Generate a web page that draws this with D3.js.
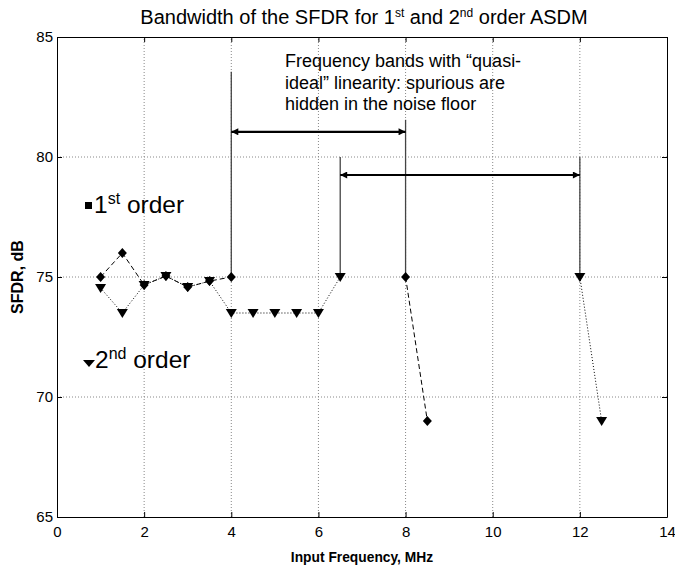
<!DOCTYPE html>
<html>
<head>
<meta charset="utf-8">
<script src="https://cdn.jsdelivr.net/npm/d3@7"></script>
<style>
  body { margin: 0; background: #fff; }
  svg { font-family: "Liberation Sans", Arial, sans-serif; }
</style>
</head>
<body>
<svg id="chart" width="675" height="574"></svg>
<script>
// values
const freq1 = [1, 1.5, 2, 2.5, 3, 3.5, 4, 8, 8.5];
const sfdr1 = [75, 76, 74.67, 75.04, 74.58, 74.83, 75, 75, 69];
const freq2 = [1, 1.5, 2, 2.5, 3, 3.5, 4, 4.5, 5, 5.5, 6, 6.5, 12, 12.5];
const sfdr2 = [74.54, 73.5, 74.67, 75.04, 74.58, 74.83, 73.5, 73.5, 73.5, 73.5, 73.5, 75, 75, 69];
// frequency spans where the curve is not drawn (sits on the 75 dB grid line)
const gap1 = [4, 8];
const gap2 = [6.5, 12];

const xTicks = [0, 2, 4, 6, 8, 10, 12, 14];
const yTicks = [65, 70, 75, 80, 85];

// annotation: band edges and arrows
const bandLineX = [4, 8, 6.5, 12];
const bandLineTop = [83.55, 81.55, 80, 80];
const arrowFrom = [4, 6.5];
const arrowTo = [8, 12];
const arrowY = [81.05, 79.25];

const noteLines = ["Frequency bands with \u201Cquasi-", "ideal\u201D linearity: spurious are", "hidden in the noise floor"];

const margin = {top: 37, right: 8, bottom: 57, left: 57};
const width = 675, height = 574;

const svg = d3.select("#chart");
const x = d3.scaleLinear().domain([0, 14]).range([margin.left, width - margin.right]);
const y = d3.scaleLinear().domain([65, 85]).range([height - margin.bottom, margin.top]);

// arrow heads
const defs = svg.append("defs");
defs.append("marker").attr("id", "head").attr("viewBox", "0 0 10 10")
    .attr("refX", 10).attr("refY", 5).attr("markerWidth", 10).attr("markerHeight", 7)
    .attr("markerUnits", "userSpaceOnUse").attr("orient", "auto-start-reverse")
    .append("path").attr("d", "M0,0 L10,5 L0,10 Z").attr("fill", "#000");

// grid
const grid = svg.append("g").attr("stroke", "#888").attr("stroke-width", 1).attr("stroke-dasharray", "1,2");
grid.selectAll(".gx").data(xTicks.slice(1, -1)).join("line")
    .attr("x1", d => x(d)).attr("x2", d => x(d))
    .attr("y1", y(65)).attr("y2", y(85));
grid.selectAll(".gy").data(yTicks.slice(1, -1)).join("line")
    .attr("x1", x(0)).attr("x2", x(14))
    .attr("y1", d => y(d)).attr("y2", d => y(d));

// axes (matlab style, ticks inside)
svg.append("g").attr("transform", `translate(0,${y(65)})`)
    .call(d3.axisBottom(x).tickValues(xTicks).tickSizeInner(-5).tickSizeOuter(0).tickPadding(9))
    .call(g => g.selectAll("text").attr("font-size", 15).attr("fill", "#000"));
svg.append("g").attr("transform", `translate(0,${y(85)})`)
    .call(d3.axisTop(x).tickValues(xTicks).tickSizeInner(-5).tickSizeOuter(0).tickFormat(""));
svg.append("g").attr("transform", `translate(${x(0)},0)`)
    .call(d3.axisLeft(y).tickValues(yTicks).tickSizeInner(-5).tickSizeOuter(0).tickPadding(4))
    .call(g => g.selectAll("text").attr("font-size", 15).attr("fill", "#000"));
svg.append("g").attr("transform", `translate(${x(14)},0)`)
    .call(d3.axisRight(y).tickValues(yTicks).tickSizeInner(-5).tickSizeOuter(0).tickFormat(""));
svg.selectAll(".domain").attr("stroke", "#000");

// band edge lines
svg.append("g").selectAll("line").data(bandLineX).join("line")
    .attr("x1", d => x(d)).attr("x2", d => x(d))
    .attr("y1", y(75)).attr("y2", (d, i) => y(bandLineTop[i]))
    .attr("stroke", "#444").attr("stroke-width", 1.3);

// double arrows
svg.append("g").selectAll("line").data(arrowY).join("line")
    .attr("x1", (d, i) => x(arrowFrom[i])).attr("x2", (d, i) => x(arrowTo[i]))
    .attr("y1", d => y(d)).attr("y2", d => y(d))
    .attr("stroke", "#000").attr("stroke-width", 2.2)
    .attr("marker-start", "url(#head)").attr("marker-end", "url(#head)");

// series, split into pieces around the gap
function pieces(fs, vs, gap) {
    const pts = fs.map((f, i) => [f, vs[i]]);
    const a = pts.filter(d => d[0] <= gap[0]);
    const b = pts.filter(d => d[0] >= gap[1]);
    return [a, b];
}
const s1 = freq1.map((f, i) => [f, sfdr1[i]]);
const s2 = freq2.map((f, i) => [f, sfdr2[i]]);
const line = d3.line().x(d => x(d[0])).y(d => y(d[1]));

svg.append("g").selectAll("path").data(pieces(freq2, sfdr2, gap2)).join("path")
    .attr("d", line).attr("fill", "none")
    .attr("stroke", "#000").attr("stroke-width", 1).attr("stroke-dasharray", "1,2");
svg.append("g").selectAll("path").data(pieces(freq1, sfdr1, gap1)).join("path")
    .attr("d", line).attr("fill", "none")
    .attr("stroke", "#000").attr("stroke-width", 1).attr("stroke-dasharray", "5,3");

const tri = "M-5.5,-4 L5.5,-4 L0,5 Z";
svg.append("g").selectAll("path").data(s2).join("path")
    .attr("transform", d => `translate(${x(d[0])},${y(d[1])})`)
    .attr("d", tri).attr("fill", "#000");
svg.append("g").selectAll("path").data(s1).join("path")
    .attr("transform", d => `translate(${x(d[0])},${y(d[1])})`)
    .attr("d", "M0,-5 L4.5,0 L0,5 L-4.5,0 Z").attr("fill", "#000");

// legends
const leg1 = svg.append("g").attr("transform", "translate(85,213)");
leg1.append("rect").attr("x", 0).attr("y", -11).attr("width", 7).attr("height", 7).attr("fill", "#000");
leg1.append("text").attr("x", 9).attr("y", 0).attr("font-size", 24.5).attr("fill", "#000")
    .html('1<tspan dy="-9" font-size="16">st</tspan><tspan dy="9"> order</tspan>');

const leg2 = svg.append("g").attr("transform", "translate(83,368)");
leg2.append("path").attr("d", "M0,-8 L12,-8 L6,-1 Z").attr("fill", "#000");
leg2.append("text").attr("x", 12).attr("y", 0).attr("font-size", 24.5).attr("fill", "#000")
    .html('2<tspan dy="-9" font-size="16">nd</tspan><tspan dy="9"> order</tspan>');

// note
svg.append("g").selectAll("text").data(noteLines).join("text")
    .attr("x", 285).attr("y", (d, i) => 67 + i * 21.5)
    .attr("font-size", 18).attr("fill", "#000").text(d => d);

// title
svg.append("text").attr("x", 364).attr("y", 24).attr("text-anchor", "middle")
    .attr("font-size", 20).attr("fill", "#000")
    .html('Bandwidth of the SFDR for 1<tspan dy="-7" font-size="12">st</tspan><tspan dy="7"> and 2</tspan><tspan dy="-7" font-size="12">nd</tspan><tspan dy="7"> order ASDM</tspan>');

// axis labels
svg.append("text").attr("x", 362).attr("y", 562).attr("text-anchor", "middle")
    .attr("font-size", 15).attr("font-weight", "bold").attr("fill", "#000")
    .attr("transform", "translate(362,0) scale(0.92,1) translate(-362,0)")
    .text("Input Frequency, MHz");
svg.append("text").attr("transform", "translate(23,277) rotate(-90)")
    .attr("text-anchor", "middle").attr("font-size", 16).attr("font-weight", "bold").attr("fill", "#000")
    .text("SFDR, dB");
</script>
</body>
</html>
